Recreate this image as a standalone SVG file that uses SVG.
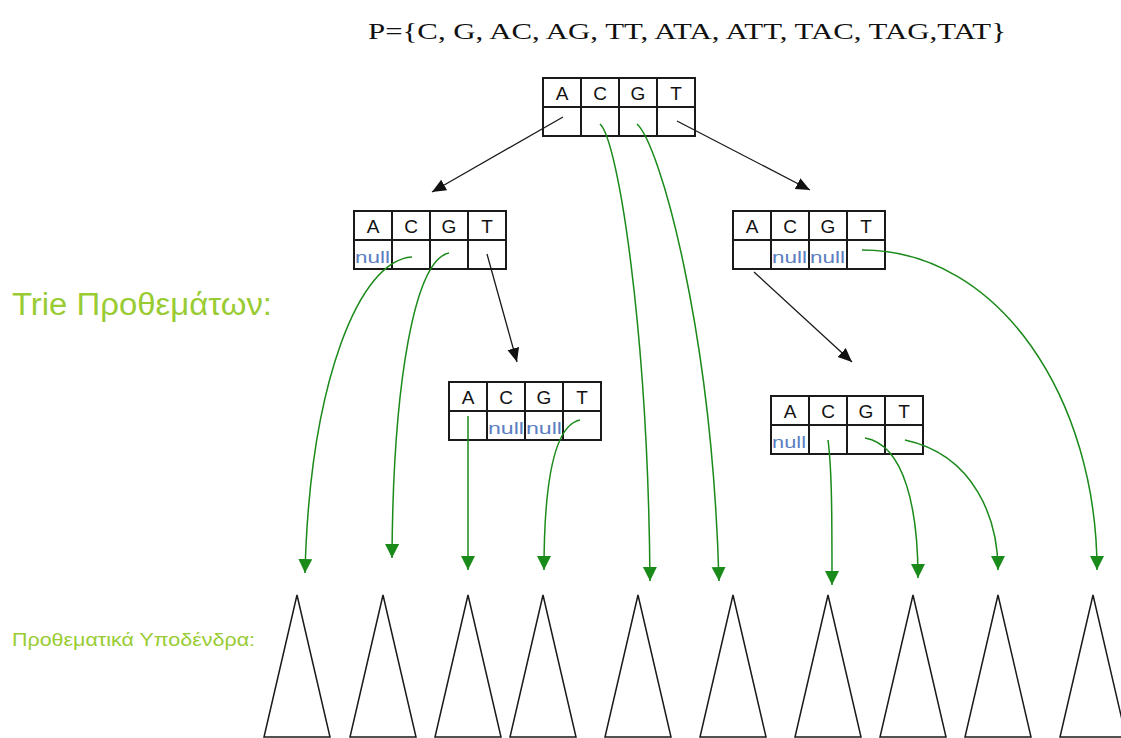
<svg xmlns="http://www.w3.org/2000/svg" width="1121" height="738" viewBox="0 0 1121 738">
  <style>
    .cell { fill: #ffffff; stroke: #1a1a1a; stroke-width: 2; }
    .div { stroke: #1a1a1a; stroke-width: 2; fill: none; }
    .letter { font-family: "Liberation Sans", Arial, sans-serif; font-size: 19px; fill: #111; text-anchor: middle; }
    .null { font-family: "Liberation Sans", Arial, sans-serif; font-size: 17px; fill: #5b7fc2; }
    .label { font-family: "Liberation Sans", Arial, sans-serif; fill: #99cc33; }
    .ptr { stroke: #1a1a1a; stroke-width: 1.3; fill: none; marker-end: url(#blackHead); }
    .sub { stroke: #1a8a1a; stroke-width: 1.5; fill: none; marker-end: url(#greenHead); }
    .tri { fill: none; stroke: #1a1a1a; stroke-width: 1.5; }
  </style>
  <defs>
    <marker id="blackHead" markerUnits="userSpaceOnUse" markerWidth="16" markerHeight="14" refX="14" refY="6" orient="auto">
      <path d="M0,0 L14,6 L0,12 Z" fill="#111"/>
    </marker>
    <marker id="greenHead" markerUnits="userSpaceOnUse" markerWidth="16" markerHeight="16" refX="14" refY="7" orient="auto">
      <path d="M0,0 L14,7 L0,14 Z" fill="#1a8a1a"/>
    </marker>
    <!-- a 4-slot trie node: letters on top, child pointers below -->
    <g id="node">
      <rect class="cell" x="0" y="0" width="152" height="58"/>
      <path class="div" d="M0,29 H152 M38,0 V58 M76,0 V58 M114,0 V58"/>
      <text class="letter" x="19" y="22">A</text>
      <text class="letter" x="57" y="22">C</text>
      <text class="letter" x="95" y="22">G</text>
      <text class="letter" x="133" y="22">T</text>
    </g>
  </defs>

  <text x="368" y="39" font-family="'Liberation Serif', 'Times New Roman', serif" font-size="24" fill="#111" textLength="638" lengthAdjust="spacingAndGlyphs">P={C, G, AC, AG, TT, ATA, ATT, TAC, TAG,TAT}</text>

  <text class="label" x="12" y="315" font-size="31" textLength="260" lengthAdjust="spacingAndGlyphs">Trie Προθεμάτων:</text>
  <text class="label" x="12" y="646" font-size="19" textLength="243" lengthAdjust="spacingAndGlyphs">Προθεματικά Υποδένδρα:</text>

  <g id="root"><use href="#node" x="543" y="78"/></g>

  <g id="nodeA">
    <use href="#node" x="354" y="211"/>
    <text class="null" x="355" y="263" textLength="35" lengthAdjust="spacingAndGlyphs">null</text>
  </g>

  <g id="nodeT">
    <use href="#node" x="733" y="211"/>
    <text class="null" x="772" y="263" textLength="35" lengthAdjust="spacingAndGlyphs">null</text>
    <text class="null" x="810" y="263" textLength="35" lengthAdjust="spacingAndGlyphs">null</text>
  </g>

  <g id="nodeAT">
    <use href="#node" x="449" y="382"/>
    <text class="null" x="488" y="434" textLength="36" lengthAdjust="spacingAndGlyphs">null</text>
    <text class="null" x="526" y="434" textLength="36" lengthAdjust="spacingAndGlyphs">null</text>
  </g>

  <g id="nodeTA">
    <use href="#node" x="771" y="396"/>
    <text class="null" x="772" y="448" textLength="34" lengthAdjust="spacingAndGlyphs">null</text>
  </g>

  <g id="subtrees">
    <path class="tri" d="M297,595 L264,737 L330,737 Z"/>
    <path class="tri" d="M383,595 L350,737 L416,737 Z"/>
    <path class="tri" d="M468,595 L435,737 L501,737 Z"/>
    <path class="tri" d="M543,595 L510,737 L576,737 Z"/>
    <path class="tri" d="M638,595 L605,737 L671,737 Z"/>
    <path class="tri" d="M733,595 L700,737 L766,737 Z"/>
    <path class="tri" d="M828,595 L795,737 L861,737 Z"/>
    <path class="tri" d="M913,595 L880,737 L946,737 Z"/>
    <path class="tri" d="M998,595 L965,737 L1031,737 Z"/>
    <path class="tri" d="M1093,595 L1060,737 L1126,737 Z"/>
  </g>

  <g id="connectors">
    <!-- child pointers -->
    <path class="ptr" d="M563,117 L432,192"/>
    <path class="ptr" d="M677,121 L810,190"/>
    <path class="ptr" d="M487,254 L517,362"/>
    <path class="ptr" d="M754,272 L852,362"/>
    <!-- pointers into prefix subtrees -->
    <path class="sub" d="M600,124 C618,140 648,330 650,581"/>
    <path class="sub" d="M637,124 C660,145 712,330 719,581"/>
    <path class="sub" d="M412,257 C360,260 310,380 305,573"/>
    <path class="sub" d="M449,253 C415,260 393,380 392,558"/>
    <path class="sub" d="M468,416 L468,570"/>
    <path class="sub" d="M580,420 C555,425 544,480 544,570"/>
    <path class="sub" d="M828,440 C832,470 832,520 832,585"/>
    <path class="sub" d="M865,438 C905,445 918,510 918,578"/>
    <path class="sub" d="M905,440 C975,455 998,520 998,570"/>
    <path class="sub" d="M862,250 C1000,250 1097,400 1097,570"/>
  </g>
</svg>
